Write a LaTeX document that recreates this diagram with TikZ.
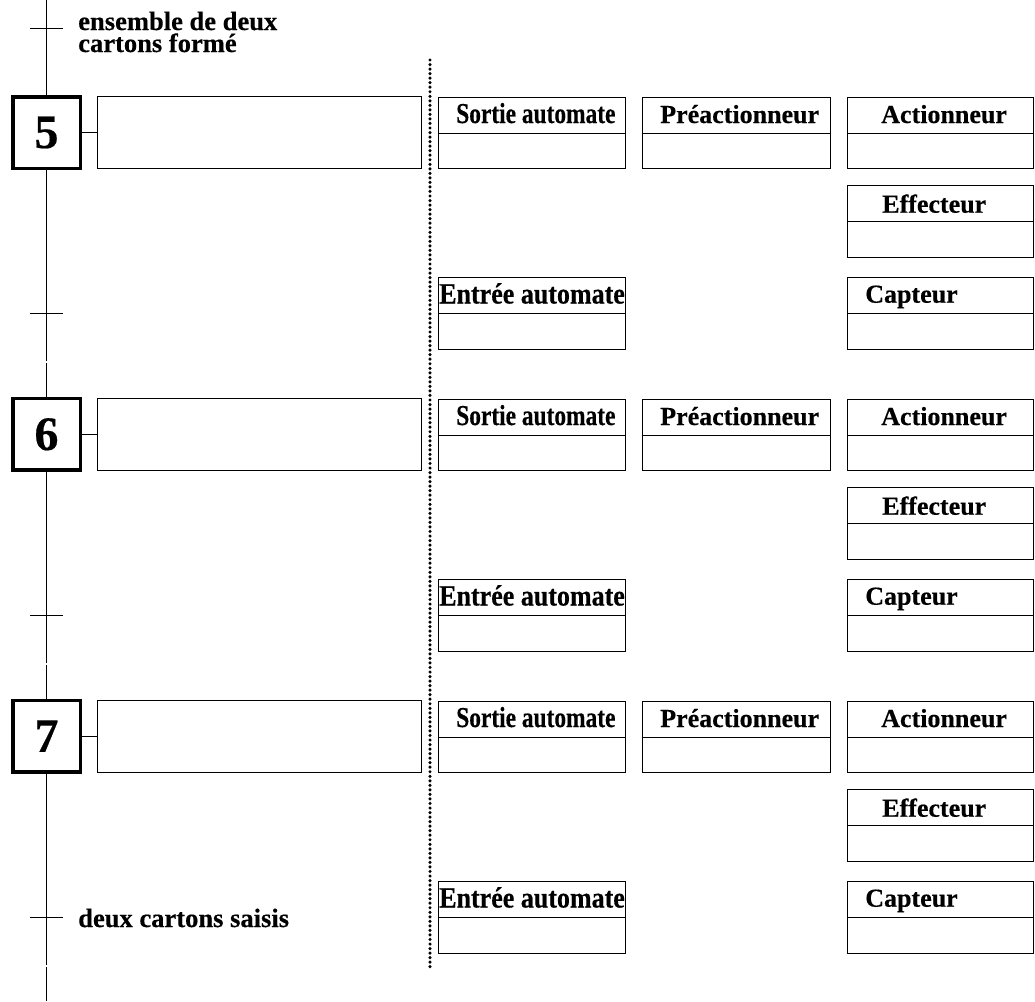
\documentclass[tikz,border=0pt]{standalone}
\usepackage{fontspec}
\setmainfont[BoldFeatures={FakeBold=0.4}]{Liberation Serif}
\usepackage{graphicx}

% one two-part box: outline node, middle divider, bold title in the upper half
% #1 name, #2 left, #3 top, #4 width, #5 height, #6 title dx, #7 title baseline dy, #8 title
\newcommand\mkcell[8]{%
  \node[cellbox, minimum width={#4*0.75pt}, minimum height={#5*0.75pt}] (#1) at (#2,{#3}) {};
  \draw[thinline] (#1.west) -- (#1.east);
  \node[celltext] (#1t) at ([shift={(#6,#7)}]#1.north west) {#8};
}

\begin{document}
\begin{tikzpicture}[x=0.75pt,y=-0.75pt,
  thinline/.style={line width=0.75pt, black},
  etape/.style={draw, line width=2.6pt, minimum width=50.6pt, minimum height=53.6pt,
    inner sep=0pt, font=\fontsize{36}{36}\selectfont\bfseries},
  actbox/.style={draw, line width=0.75pt, anchor=north west, minimum width=243pt,
    minimum height=54pt, inner sep=0pt},
  cellbox/.style={draw, line width=0.75pt, anchor=north west, inner sep=0pt},
  celltext/.style={anchor=base west, inner sep=0pt, font=\fontsize{19.5}{19.5}\selectfont\bfseries},
  cond/.style={anchor=base west, inner sep=0pt, font=\fontsize{19.9}{19.9}\selectfont\bfseries},
  dotline/.style={line width=2.6pt, line cap=round, dash pattern=on 0pt off 3.4pt}]

\useasboundingbox (0,0) rectangle (1035,1001);

% steps, actions and the part/command boxes of each step
\foreach \n [count=\r from 0] in {5,6,7} {
  \pgfmathsetmacro\dy{302*\r}
  \pgfmathsetmacro\ey{132.5+301.8*\r}
  \node[etape] (e\n) at (46.5,\ey) {\n};
  \node[actbox] (a\n) at (97,{96+\dy}) {};
  \draw[thinline] (e\n.east) -- (e\n.east -| a\n.west);
  \mkcell{so\n}{438}{97+\dy}{187}{71}{18}{26}{\scalebox{0.9}[1.11]{Sortie automate}}
  \mkcell{pr\n}{642}{97+\dy}{188}{71}{18}{26}{Préactionneur}
  \mkcell{ac\n}{847}{97+\dy}{186}{71}{34}{26}{Actionneur}
  \mkcell{ef\n}{847}{185+\dy}{186}{72}{35}{27.7}{Effecteur}
  \mkcell{en\n}{438}{277+\dy}{187}{72}{1}{26.5}{\scalebox{1.0}[1.13]{Entrée automate}}
  \mkcell{ca\n}{847}{277+\dy}{186}{72}{18}{25.7}{Capteur}
}

% main link of the sequence with its transitions
\coordinate (top) at (46.5,0);
\coordinate (t0) at (46.5,28);
\draw[thinline] (top) -- (e5.north);
\draw[thinline] ([xshift=-12.4pt]t0) -- ([xshift=12.4pt]t0);

\coordinate (t5) at (46.5,313);
\coordinate (g5a) at (46.5,361);
\coordinate (g5b) at (46.5,363);
\draw[thinline] (e5.south) -- (g5a);
\draw[thinline] (g5b) -- (e6.north);
\draw[thinline] ([xshift=-12.4pt]t5) -- ([xshift=12.4pt]t5);

\coordinate (t6) at (46.5,615);
\coordinate (g6a) at (46.5,663);
\coordinate (g6b) at (46.5,665);
\draw[thinline] (e6.south) -- (g6a);
\draw[thinline] (g6b) -- (e7.north);
\draw[thinline] ([xshift=-12.4pt]t6) -- ([xshift=12.4pt]t6);

\coordinate (t7) at (46.5,917);
\coordinate (g7a) at (46.5,965);
\coordinate (g7b) at (46.5,967);
\coordinate (bottom) at (46.5,1001);
\draw[thinline] (e7.south) -- (g7a);
\draw[thinline] (g7b) -- (bottom);
\draw[thinline] ([xshift=-12.4pt]t7) -- ([xshift=12.4pt]t7);

% receptivities
\node[cond] (r0a) at (78,30) {ensemble de deux};
\node[cond] (r0b) at (78,52) {cartons formé};
\node[cond] (r7) at (78,927) {deux cartons saisis};

% separation between the sequence and the chain of parts
\coordinate (d0) at (430,60);
\coordinate (d1) at (430,968);
\draw[dotline] (d0) -- (d1);

\end{tikzpicture}
\end{document}
